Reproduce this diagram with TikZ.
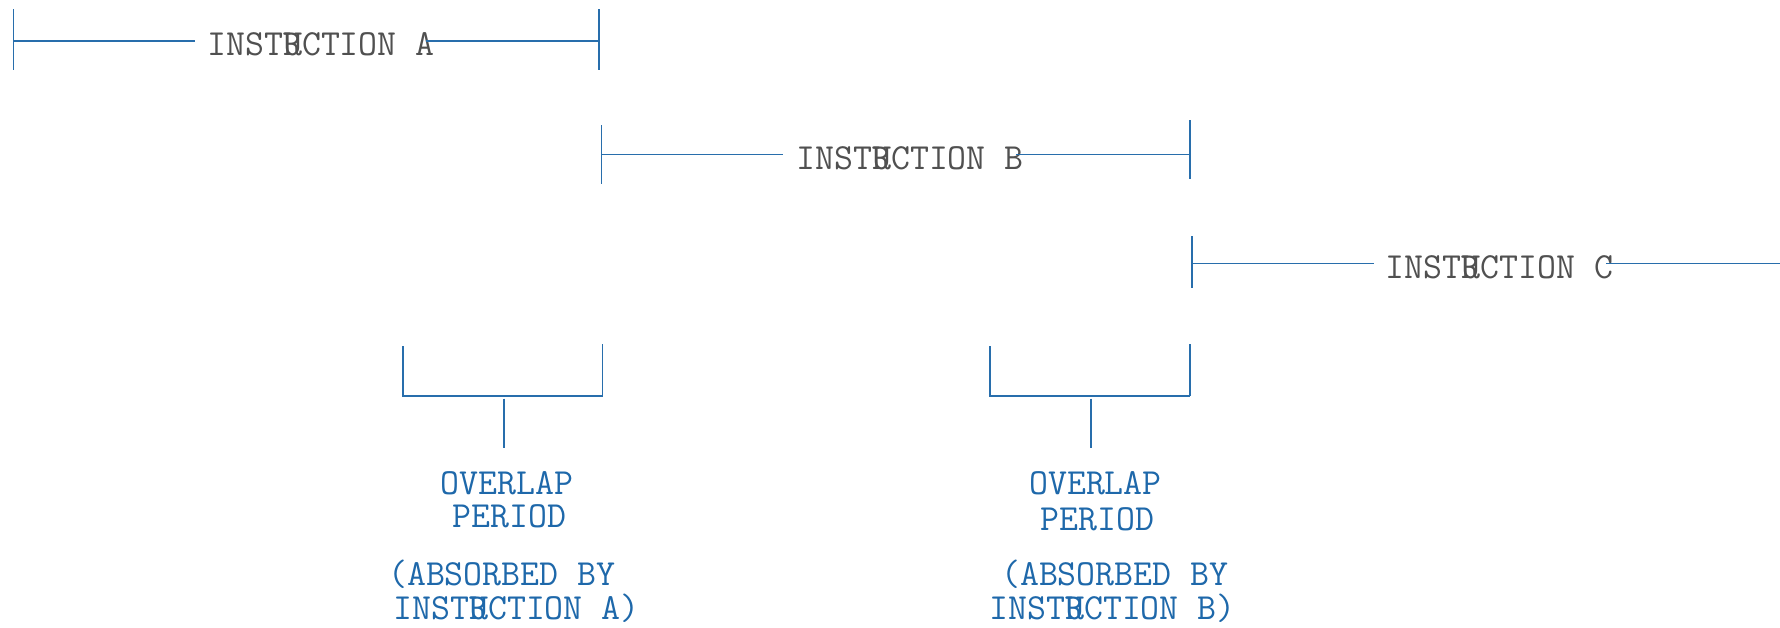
\documentclass[tikz,border=0pt]{standalone}
\usepackage{fontspec}
\definecolor{barblue}{RGB}{40,110,172}
\definecolor{noteblue}{RGB}{30,104,170}
\definecolor{instrgray}{RGB}{80,80,80}
\newcommand{\instrword}{INST\rlap{R}UCTION}
\begin{document}
\begin{tikzpicture}[x=0.5pt,y=-0.5pt,
bar/.style={draw=barblue,line width=0.6pt},
instr/.style={anchor=base,inner sep=0,text=instrgray,font=\ttfamily\fontsize{18.4}{21}\selectfont},
note/.style={anchor=base,inner sep=0,text=noteblue,font=\ttfamily\fontsize{18.4}{21}\selectfont},
]
\useasboundingbox(0,0)rectangle(1780,627);

%instruction A
\coordinate(aLt)at(13.6,9);\coordinate(aLb)at(13.6,70);
\coordinate(aRt)at(599,9);\coordinate(aRb)at(599,70);
\coordinate(aL)at(13.6,40.9);\coordinate(aR)at(599,40.9);
\coordinate(aTl)at(195,40.9);\coordinate(aTr)at(426,40.9);
\node[instr](txtA)at(321,55.5){\instrword{} A};
\draw[bar](aLt)--(aLb);
\draw[bar](aRt)--(aRb);
\draw[bar](aL)--(aTl);
\draw[bar](aTr)--(aR);

%instruction B
\coordinate(bLt)at(601.6,125);\coordinate(bLb)at(601.6,184);
\coordinate(bRt)at(1190,120);\coordinate(bRb)at(1190,179);
\coordinate(bL)at(601.6,154.4);\coordinate(bR)at(1190,154.4);
\coordinate(bTl)at(783,154.4);\coordinate(bTr)at(1016,154.4);
\node[instr](txtB)at(910,169){\instrword{} B};
\draw[bar](bLt)--(bLb);
\draw[bar](bRt)--(bRb);
\draw[bar](bL)--(bTl);
\draw[bar](bTr)--(bR);

%instruction C
\coordinate(cLt)at(1192,236);\coordinate(cLb)at(1192,288);
\coordinate(cL)at(1192,263.4);\coordinate(cR)at(1780,263.4);
\coordinate(cTl)at(1373.6,263.4);\coordinate(cTr)at(1606,263.4);
\node[instr](txtC)at(1499.6,278){\instrword{} C};
\draw[bar](cLt)--(cLb);
\draw[bar](cL)--(cTl);
\draw[bar](cTr)--(cR);

%overlap A-B
\coordinate(p1Lt)at(403,346);\coordinate(p1L)at(403,396);
\coordinate(p1Rt)at(602.8,344);\coordinate(p1R)at(602.8,396);
\coordinate(p1St)at(504,398.5);\coordinate(p1Sb)at(504,448);
\draw[bar](p1Lt)--(p1L)--(p1R);
\draw[bar](p1Rt)--(p1R);
\draw[bar](p1St)--(p1Sb);
\node[note](ovA)at(507,494){OVERLAP};
\node[note](perA)at(509.7,527){PERIOD};
\node[note](absA)at(501.8,585){(ABSORBED BY};
\node[note](byA)at(516.5,619){\instrword{} A)};

%overlap B-C
\coordinate(p2Lt)at(990,346);\coordinate(p2L)at(990,396);
\coordinate(p2Rt)at(1190,344);\coordinate(p2R)at(1190,396);
\coordinate(p2St)at(1091,398.5);\coordinate(p2Sb)at(1091,448);
\draw[bar](p2Lt)--(p2L)--(p2R);
\draw[bar](p2Rt)--(p2R);
\draw[bar](p2St)--(p2Sb);
\node[note](ovB)at(1095.5,494){OVERLAP};
\node[note](perB)at(1097.7,530.5){PERIOD};
\node[note](absB)at(1114.8,585){(ABSORBED BY};
\node[note](byB)at(1112.5,619){\instrword{} B)};

\end{tikzpicture}
\end{document}
